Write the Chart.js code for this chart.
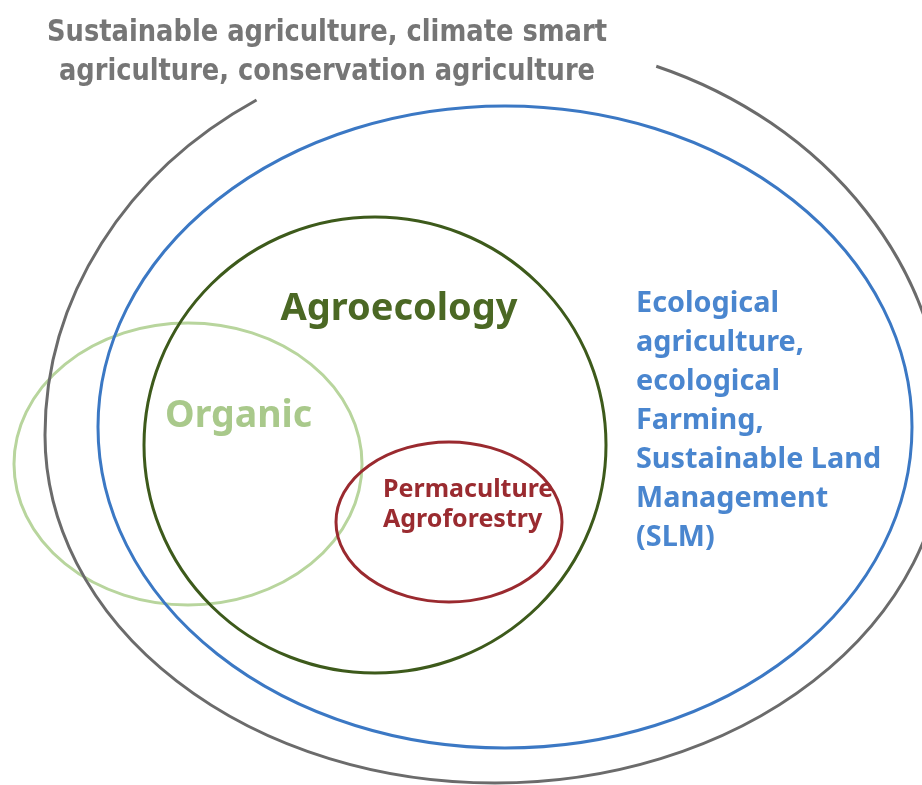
<!DOCTYPE html>
<html>
<head>
<meta charset="utf-8">
<script src="https://cdn.jsdelivr.net/npm/chart.js@4"></script>
<style>
  html, body { margin: 0; padding: 0; background: #ffffff; }
  #wrap { width: 922px; height: 785px; position: relative; }
</style>
</head>
<body>
<div id="wrap"><canvas id="c"></canvas></div>
<script>
// ---- Data (diagram units = reference pixels) ----
const setNames     = ['Sustainable agriculture', 'Ecological agriculture', 'Agroecology', 'Organic', 'Permaculture / Agroforestry'];
const centerX      = [495, 505, 375, 188, 449];
const centerY      = [435, 427, 445, 464, 522];
const radiusX      = [450, 407, 231, 174, 113];
const radiusYTop   = [395, 321, 228, 141, 80];
const radiusYBottom= [348, 321, 228, 141, 80];

const titleLines   = ['Sustainable agriculture, climate smart', 'agriculture, conservation agriculture'];
const agroLabel    = ['Agroecology'];
const organicLabel = ['Organic'];
const permaLabel   = ['Permaculture', 'Agroforestry'];
const ecoLabel     = ['Ecological', 'agriculture,', 'ecological', 'Farming,', 'Sustainable Land', 'Management', '(SLM)'];

// ---- Styles ----
const lineColors = ['#6b6b6b', '#3b78c4', '#3d5a1b', '#b8d59d', '#9a2a2f'];
const drawOrder  = [3, 0, 1, 2, 4];
// gray outer line is open at the top where its caption sits (parametric angles, degrees)
const openArc = { 0: { from: 238, to: 291 } };

const labelSpecs = [
  { lines: titleLines,   x: 327, y: 41,  dy: 39,  align: 'center', font: '700 31px "DejaVu Sans Condensed", "Liberation Sans Narrow", sans-serif', color: '#767676', spacing: '0px', maxW: [560, 536] },
  { lines: agroLabel,    x: 399, y: 320, dy: 0,   align: 'center', font: '700 38px "Noto Sans", sans-serif', color: '#4b6824', spacing: '0px' },
  { lines: organicLabel, x: 165, y: 427, dy: 0,   align: 'left',   font: '700 37.5px "Noto Sans", sans-serif', color: '#a9c98b', spacing: '0px' },
  { lines: permaLabel,   x: 383, y: 497, dy: 30,  align: 'left',   font: '700 25px "Noto Sans", sans-serif', color: '#9a2b30', spacing: '0px' },
  { lines: ecoLabel,     x: 636, y: 312, dy: 39,  align: 'left',   font: '700 28.8px "Noto Sans", sans-serif', color: '#4a86cf', spacing: '0px' }
];

const datasets = setNames.map((name, i) => ({
  label: name,
  data: [{ x: centerX[i], y: centerY[i] }],
  rx: radiusX[i], ryTop: radiusYTop[i], ryBottom: radiusYBottom[i],
  pointRadius: 0, showLine: false
}));

const ellipsePlugin = {
  id: 'ellipses',
  afterDatasetsDraw(chart) {
    const ctx = chart.ctx;
    const xs = chart.scales.x, ys = chart.scales.y;
    drawOrder.forEach(i => {
      const ds = chart.data.datasets[i];
      const pt = chart.getDatasetMeta(i).data[0];
      const cx = pt.x, cy = pt.y;
      const d = ds.data[0];
      const rx  = Math.abs(xs.getPixelForValue(d.x + ds.rx) - cx);
      const ryT = Math.abs(ys.getPixelForValue(d.y - ds.ryTop) - cy);
      const ryB = Math.abs(ys.getPixelForValue(d.y + ds.ryBottom) - cy);
      ctx.save();
      ctx.strokeStyle = lineColors[i];
      ctx.lineWidth = 3;
      ctx.beginPath();
      const gap = openArc[i];
      if (gap) {
        const a0 = gap.to * Math.PI / 180 - 2 * Math.PI;   // start just right of the gap
        const a1 = gap.from * Math.PI / 180;                 // end just left of the gap
        ctx.ellipse(cx, cy, rx, ryT, 0, a0, 0);
        ctx.ellipse(cx, cy, rx, ryB, 0, 0, Math.PI);
        ctx.ellipse(cx, cy, rx, ryT, 0, Math.PI, a1);
      } else {
        ctx.ellipse(cx, cy, rx, ryT, 0, Math.PI, 2 * Math.PI);
        ctx.ellipse(cx, cy, rx, ryB, 0, 0, Math.PI);
      }
      ctx.stroke();
      ctx.restore();
    });
    // labels
    labelSpecs.forEach(s => {
      ctx.save();
      ctx.font = s.font;
      ctx.fillStyle = s.color;
      ctx.textAlign = s.align;
      ctx.textBaseline = 'alphabetic';
      try { ctx.letterSpacing = s.spacing; } catch (e) {}
      s.lines.forEach((t, k) => {
        const px = xs.getPixelForValue(s.x);
        const py = ys.getPixelForValue(s.y + k * s.dy);
        if (s.maxW) ctx.fillText(t, px, py, s.maxW[k]);
        else ctx.fillText(t, px, py);
      });
      ctx.restore();
    });
  }
};

new Chart(document.getElementById('c'), {
  type: 'scatter',
  data: { datasets },
  options: {
    responsive: true,
    maintainAspectRatio: false,
    animation: false,
    layout: { padding: 0 },
    plugins: { legend: { display: false }, tooltip: { enabled: false }, title: { display: false } },
    scales: {
      x: { type: 'linear', min: 0, max: 922, display: false },
      y: { type: 'linear', min: 0, max: 785, reverse: true, display: false }
    }
  },
  plugins: [ellipsePlugin]
});
</script>
</body>
</html>
